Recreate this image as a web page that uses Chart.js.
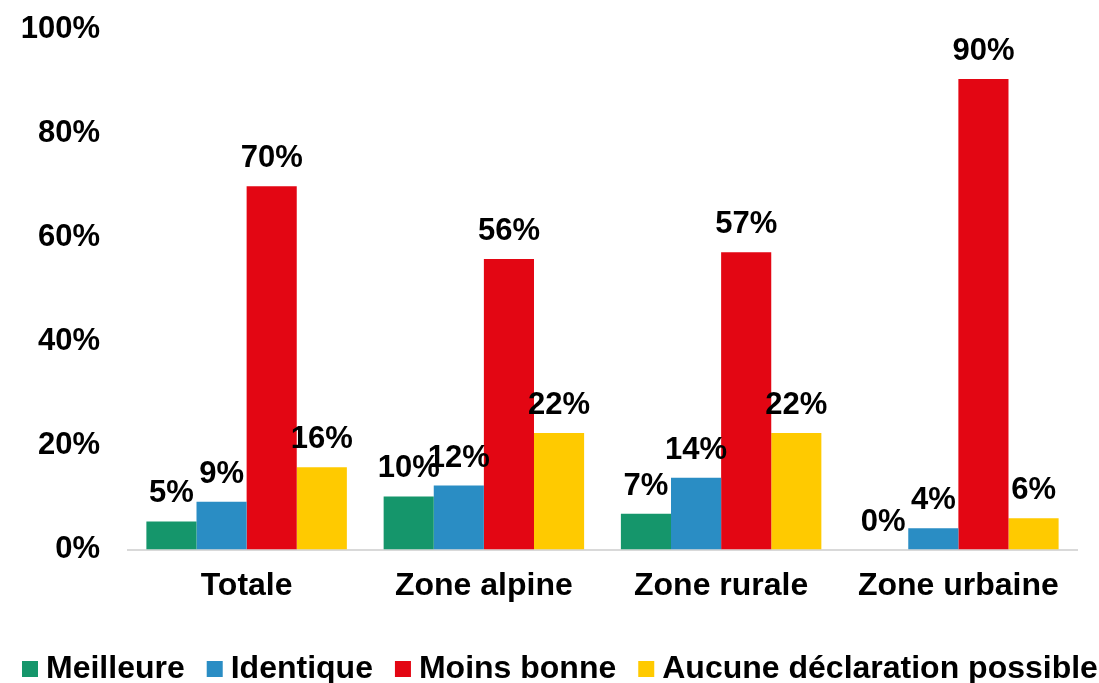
<!DOCTYPE html>
<html>
<head>
<meta charset="utf-8">
<script src="https://cdn.jsdelivr.net/npm/chart.js@4/dist/chart.umd.min.js"></script>
<style>
    html, body { margin: 0; padding: 0; background: #fff; }
    #wrap { width: 1099px; height: 683px; position: relative; }
</style>
</head>
<body>
<div id="wrap"><canvas id="chart"></canvas></div>
<script>
// Données
const categories = ['Totale', 'Zone alpine', 'Zone rurale', 'Zone urbaine'];
const meilleure = [5.4, 10.2, 6.9, 0];
const identique = [9.2, 12.3, 13.8, 4.1];
const moinsBonne = [69.8, 55.8, 57.1, 90.4];
const aucune = [15.8, 22.4, 22.4, 6.0];
const yTicks = [0, 20, 40, 60, 80, 100];

const fontMain = 'Arial, "Liberation Sans", sans-serif';

// petit plugin pour les étiquettes au-dessus des barres
const barLabels = {
    id: 'barLabels',
    afterDatasetsDraw(chart) {
        const ctx = chart.ctx;
        ctx.save();
        ctx.font = 'bold 31px ' + fontMain;
        ctx.fillStyle = '#000';
        ctx.textAlign = 'center';
        ctx.textBaseline = 'alphabetic';
        chart.data.datasets.forEach((ds, i) => {
            const meta = chart.getDatasetMeta(i);
            meta.data.forEach((bar, j) => {
                ctx.fillText(Math.round(ds.data[j]) + '%', bar.x, bar.y - 19);
            });
        });
        ctx.restore();
    }
};

// légende dessinée à la main (celle de Chart.js passe sur deux lignes)
const bottomLegend = {
    id: 'bottomLegend',
    afterDraw(chart) {
        const ctx = chart.ctx;
        ctx.save();
        ctx.font = 'bold 32px ' + fontMain;
        ctx.textBaseline = 'middle';
        ctx.textAlign = 'left';
        let x = 22;
        const y = 669;
        chart.data.datasets.forEach(ds => {
            ctx.fillStyle = ds.backgroundColor;
            ctx.fillRect(x, y - 8, 16, 16);
            ctx.fillStyle = '#000';
            ctx.fillText(ds.label, x + 24, y);
            x += 24 + ctx.measureText(ds.label).width + 22;
        });
        ctx.restore();
    }
};

function makeDataset(label, data, color) {
    return {
        label: label,
        data: data,
        backgroundColor: color,
        borderWidth: 0,
        categoryPercentage: 0.845,
        barPercentage: 1.0
    };
}

new Chart(document.getElementById('chart').getContext('2d'), {
    type: 'bar',
    data: {
        labels: categories,
        datasets: [
            makeDataset('Meilleure', meilleure, '#15966b'),
            makeDataset('Identique', identique, '#2a8dc4'),
            makeDataset('Moins bonne', moinsBonne, '#e30613'),
            makeDataset('Aucune déclaration possible', aucune, '#ffca00')
        ]
    },
    plugins: [barLabels, bottomLegend],
    options: {
        responsive: true,
        maintainAspectRatio: false,
        animation: false,
        layout: { padding: { left: 20, right: 22, top: 29, bottom: 61 } },
        scales: {
            x: {
                grid: { display: false, drawTicks: false },
                border: { display: true, color: '#d9d9d9', width: 2 },
                ticks: {
                    color: '#000',
                    font: { family: fontMain, size: 32, weight: 'bold' },
                    padding: 17
                },
                afterFit: axis => { axis.paddingLeft = 0; axis.paddingRight = 0; }
            },
            y: {
                min: 0,
                max: 100,
                afterBuildTicks: axis => { axis.ticks = yTicks.map(v => ({ value: v })); },
                afterFit: axis => {
                    axis.width = 108;
                    axis.paddingTop = 0;
                    axis.paddingBottom = 0;
                },
                grid: { display: false, drawTicks: false },
                border: { display: false },
                ticks: {
                    color: '#000',
                    font: { family: fontMain, size: 31, weight: 'bold' },
                    padding: 28,
                    callback: v => v + '%'
                }
            }
        },
        plugins: {
            legend: { display: false },
            tooltip: { enabled: false }
        }
    }
});
</script>
</body>
</html>
